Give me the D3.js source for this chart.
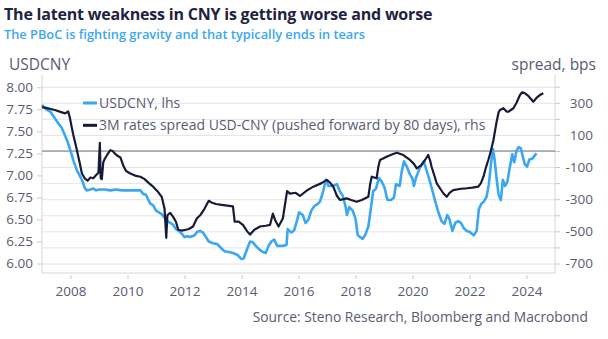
<!DOCTYPE html>
<html>
<head>
<meta charset="utf-8">
<script src="https://cdn.jsdelivr.net/npm/d3@7"></script>
<style>
  body { margin: 0; background: #fff; }
  svg { display: block; font-family: "Open Sans", "Noto Sans", sans-serif; }
</style>
</head>
<body>
<div id="chart"></div>
<script>
// USDCNY spot (lhs), decimal years
const cnyYears = [
  2007.00, 2007.05, 2007.15, 2007.30, 2007.45, 2007.55, 2007.69, 2007.80, 2007.90,
  2008.00, 2008.10, 2008.22, 2008.32, 2008.40, 2008.50, 2008.57, 2008.70, 2008.80, 2008.90,
  2009.00, 2009.20, 2009.40, 2009.60, 2009.80, 2010.00, 2010.20, 2010.45, 2010.55, 2010.65,
  2010.72, 2010.80, 2010.90, 2011.00, 2011.10, 2011.20, 2011.30, 2011.40, 2011.50, 2011.60,
  2011.70, 2011.80, 2011.90, 2012.00, 2012.10, 2012.20, 2012.35, 2012.45, 2012.55, 2012.65,
  2012.75, 2012.85, 2013.00, 2013.15, 2013.30, 2013.40, 2013.55, 2013.70, 2013.85, 2014.00,
  2014.08, 2014.18, 2014.30, 2014.40, 2014.50, 2014.62, 2014.75, 2014.85, 2014.95, 2015.05,
  2015.15, 2015.25, 2015.45, 2015.58, 2015.62, 2015.75, 2015.85, 2015.95, 2016.02, 2016.15,
  2016.25, 2016.35, 2016.45, 2016.55, 2016.65, 2016.75, 2016.85, 2016.96, 2017.05, 2017.20,
  2017.35, 2017.45, 2017.55, 2017.65, 2017.70, 2017.78, 2017.90, 2018.00, 2018.08, 2018.25,
  2018.35, 2018.45, 2018.55, 2018.62, 2018.72, 2018.82, 2018.92, 2019.02, 2019.12, 2019.25,
  2019.35, 2019.42, 2019.55, 2019.62, 2019.70, 2019.80, 2019.90, 2020.00, 2020.05, 2020.12,
  2020.25, 2020.40, 2020.50, 2020.62, 2020.72, 2020.82, 2020.92, 2021.02, 2021.12, 2021.22,
  2021.30, 2021.40, 2021.50, 2021.60, 2021.70, 2021.80, 2021.90, 2022.00, 2022.15, 2022.25,
  2022.33, 2022.42, 2022.50, 2022.60, 2022.68, 2022.75, 2022.82, 2022.88, 2022.95, 2023.02,
  2023.10, 2023.17, 2023.25, 2023.33, 2023.42, 2023.50, 2023.57, 2023.65, 2023.72, 2023.80,
  2023.88, 2023.95, 2024.02, 2024.10, 2024.20, 2024.30, 2024.35
];
const cnyValues = [
  7.80, 7.78, 7.75, 7.72, 7.65, 7.60, 7.54, 7.46, 7.38,
  7.28, 7.17, 7.06, 7.00, 6.95, 6.86, 6.83, 6.84, 6.85, 6.83,
  6.84, 6.84, 6.83, 6.84, 6.83, 6.83, 6.83, 6.83, 6.79, 6.78,
  6.73, 6.68, 6.66, 6.60, 6.58, 6.56, 6.52, 6.48, 6.46, 6.44,
  6.39, 6.37, 6.34, 6.30, 6.31, 6.30, 6.32, 6.36, 6.37, 6.35,
  6.30, 6.25, 6.23, 6.22, 6.17, 6.14, 6.13, 6.12, 6.10, 6.05,
  6.06, 6.15, 6.25, 6.24, 6.20, 6.16, 6.13, 6.12, 6.20, 6.25,
  6.27, 6.20, 6.20, 6.21, 6.39, 6.35, 6.38, 6.49, 6.58, 6.55,
  6.46, 6.50, 6.60, 6.65, 6.67, 6.70, 6.80, 6.95, 6.88, 6.88,
  6.90, 6.82, 6.77, 6.65, 6.55, 6.64, 6.60, 6.51, 6.32, 6.28,
  6.33, 6.42, 6.65, 6.82, 6.85, 6.97, 6.93, 6.86, 6.72, 6.72,
  6.75, 6.90, 6.88, 7.04, 7.16, 7.10, 7.02, 6.96, 6.88, 6.97,
  7.08, 7.16, 7.05, 6.92, 6.80, 6.68, 6.57, 6.48, 6.45, 6.55,
  6.50, 6.37, 6.46, 6.48, 6.46, 6.40, 6.37, 6.36, 6.32, 6.37,
  6.62, 6.68, 6.70, 6.76, 6.90, 7.12, 7.30, 7.18, 6.97, 6.78,
  6.72, 6.95, 6.88, 6.93, 7.10, 7.24, 7.15, 7.28, 7.32, 7.31,
  7.20, 7.12, 7.10, 7.18, 7.19, 7.23, 7.25
];

// 3M rates spread USD-CNY, bps (rhs), already shifted 80 days
const spreadYears = [
  2007.00, 2007.10, 2007.45, 2007.70, 2007.81, 2007.92, 2007.98, 2008.04, 2008.10, 2008.16,
  2008.22, 2008.28, 2008.33, 2008.40, 2008.50, 2008.60, 2008.70, 2008.80, 2008.90, 2008.98,
  2009.03, 2009.06, 2009.10, 2009.15, 2009.20, 2009.30, 2009.40, 2009.48, 2009.55, 2009.65,
  2009.75, 2009.85, 2009.95, 2010.10, 2010.30, 2010.45, 2010.60, 2010.75, 2010.90, 2011.05,
  2011.20, 2011.30, 2011.36, 2011.40, 2011.50, 2011.60, 2011.70, 2011.78, 2011.90, 2012.05,
  2012.15, 2012.30, 2012.43, 2012.55, 2012.70, 2012.85, 2012.95, 2013.10, 2013.30, 2013.50,
  2013.70, 2013.76, 2013.90, 2014.05, 2014.20, 2014.30, 2014.45, 2014.65, 2014.85, 2015.00,
  2015.10, 2015.18, 2015.30, 2015.45, 2015.60, 2015.70, 2015.90, 2016.05, 2016.30, 2016.52,
  2016.81, 2016.99, 2017.10, 2017.22, 2017.35, 2017.46, 2017.69, 2017.85, 2018.04, 2018.22,
  2018.45, 2018.52, 2018.57, 2018.74, 2018.80, 2018.86, 2019.09, 2019.30, 2019.45, 2019.68,
  2019.91, 2020.05, 2020.15, 2020.30, 2020.44, 2020.55, 2020.62, 2020.67, 2020.85, 2021.08,
  2021.20, 2021.30, 2021.43, 2021.70, 2021.90, 2022.10, 2022.31, 2022.40, 2022.49, 2022.58,
  2022.66, 2022.75, 2022.84, 2022.95, 2023.02, 2023.07, 2023.19, 2023.30, 2023.36, 2023.54,
  2023.65, 2023.77, 2023.85, 2023.95, 2024.05, 2024.24, 2024.35, 2024.47, 2024.59
];
const spreadValues = [
  272, 270, 255, 240, 234, 246, 205, 150, 100, 55,
  10, -40, -80, -140, -170, -185, -165, -170, -150, -135,
  50, -170, -175, -70, -50, -20, 5, 0, -15, -30,
  -40, -90, -125, -140, -155, -160, -175, -200, -222, -250,
  -285, -360, -540, -400, -385, -410, -440, -490, -495, -490,
  -485, -470, -420, -400, -360, -310, -320, -330, -335, -340,
  -345, -440, -440, -460, -500, -520, -490, -470, -465, -460,
  -390, -430, -470, -420, -250, -265, -260, -280, -245, -222,
  -200, -180, -195, -222, -280, -305, -295, -305, -316, -305,
  -285, -200, -160, -170, -100, -56, -36, -20, -11, -25,
  -56, -80, -108, -90, -56, -25, -60, -98, -201, -263,
  -285, -260, -243, -235, -232, -228, -222, -200, -160, -100,
  -56, 0, 68, 180, 240, 255, 266, 245, 244, 266,
  300, 348, 365, 359, 345, 307, 330, 348, 359
];

const yearTicks = d3.range(2008, 2025, 2);
const cnyTicks = d3.range(6, 8.01, 0.25);
const spreadTicks = d3.range(-700, 401, 100);
const spreadLabels = [-700, -500, -300, -100, 100, 300];

const width = 608, height = 339;
const plot = {left: 42, right: 555, top: 75, bottom: 273};

const textColor = "#585c70";
const cnyColor = "#3aa7f3";
const spreadColor = "#161b38";

const svg = d3.select("#chart").append("svg")
    .attr("width", width)
    .attr("height", height);

const x = d3.scaleLinear().domain([2007, 2025]).range([plot.left, plot.right]);
const yL = d3.scaleLinear().domain([6, 8]).range([263.5, 87.3]);
const yR = d3.scaleLinear().domain([-700, 400]).range([263.5, 86.7]);

// titles
svg.append("text")
    .attr("x", 4).attr("y", 20)
    .attr("font-size", 16).attr("font-weight", 700)
    .attr("letter-spacing", -0.2)
    .attr("fill", "#1d2340")
    .text("The latent weakness in CNY is getting worse and worse");

svg.append("text")
    .attr("x", 4).attr("y", 38.5)
    .attr("font-size", 12.8).attr("font-weight", 600)
    .attr("fill", "#3aa7f3")
    .text("The PBoC is fighting gravity and that typically ends in tears");

svg.append("text")
    .attr("x", 9).attr("y", 70)
    .attr("font-size", 15.5).attr("fill", textColor)
    .text("USDCNY");

svg.append("text")
    .attr("x", 596).attr("y", 70)
    .attr("text-anchor", "end")
    .attr("font-size", 15.5).attr("fill", textColor)
    .text("spread, bps");

// horizontal grid follows the rhs ticks
svg.append("g")
    .attr("transform", `translate(${plot.left},0)`)
    .call(d3.axisRight(yR).tickValues(spreadTicks).tickSize(plot.right - plot.left).tickFormat(""))
    .call(g => g.select(".domain").remove())
    .call(g => g.selectAll("line").attr("stroke", "#e4e4e4"));

// frame
const frame = svg.append("g").attr("stroke", "#d6d6d6").attr("fill", "none");
frame.append("line").attr("x1", plot.left).attr("x2", plot.left).attr("y1", plot.top).attr("y2", plot.bottom);
frame.append("line").attr("x1", plot.right).attr("x2", plot.right).attr("y1", plot.top).attr("y2", plot.bottom);
frame.append("line").attr("x1", plot.left).attr("x2", plot.right).attr("y1", plot.bottom).attr("y2", plot.bottom);

// zero line of the spread
svg.append("line")
    .attr("x1", plot.left).attr("x2", plot.right)
    .attr("y1", yR(0)).attr("y2", yR(0))
    .attr("stroke", "#6e7384").attr("stroke-width", 1.2);

// axes
const styleAxis = g => {
    g.select(".domain").remove();
    g.selectAll("line").attr("stroke", "#c8c8c8");
    g.selectAll("text").attr("fill", textColor).attr("font-size", 13.5)
        .attr("font-family", "\"Open Sans\", \"Noto Sans\", sans-serif");
};

svg.append("g")
    .attr("transform", `translate(${plot.left},0)`)
    .call(d3.axisLeft(yL).tickValues(cnyTicks).tickSize(5).tickPadding(4).tickFormat(d3.format(".2f")))
    .call(styleAxis);

svg.append("g")
    .attr("transform", `translate(${plot.right},0)`)
    .call(d3.axisRight(yR).tickValues(spreadTicks).tickSize(5)
        .tickFormat(d => spreadLabels.includes(d) ? d : ""))
    .call(styleAxis)
    .call(g => g.selectAll("text").attr("text-anchor", "end").attr("x", 38));

svg.append("g")
    .attr("transform", `translate(0,${plot.bottom + 2})`)
    .call(d3.axisBottom(x).tickValues(yearTicks).tickSize(4).tickPadding(7).tickFormat(d3.format("d")))
    .call(styleAxis);

// series
const cnyLine = d3.line()
    .x((d, i) => x(cnyYears[i]))
    .y(d => yL(d));

const spreadLine = d3.line()
    .x((d, i) => x(spreadYears[i]))
    .y(d => yR(d));

svg.append("path")
    .datum(cnyValues)
    .attr("fill", "none")
    .attr("stroke", cnyColor)
    .attr("stroke-width", 2.6)
    .attr("stroke-linejoin", "round")
    .attr("d", cnyLine);

svg.append("path")
    .datum(spreadValues)
    .attr("fill", "none")
    .attr("stroke", spreadColor)
    .attr("stroke-width", 2.2)
    .attr("stroke-linejoin", "round")
    .attr("d", spreadLine);

// legend
const legendItems = [
    {label: "USDCNY, lhs", color: cnyColor},
    {label: "3M rates spread USD-CNY (pushed forward by 80 days), rhs", color: spreadColor}
];
const legend = svg.append("g").attr("transform", "translate(83,103)");
legend.selectAll("g")
    .data(legendItems)
    .join("g")
    .attr("transform", (d, i) => `translate(0,${i * 22.3})`)
    .call(g => g.append("line")
        .attr("x1", 0).attr("x2", 14)
        .attr("stroke", d => d.color).attr("stroke-width", 3))
    .call(g => g.append("text")
        .attr("x", 16).attr("dy", "0.35em")
        .attr("font-size", 14).attr("fill", textColor)
        .text(d => d.label));

svg.append("text")
    .attr("x", 588).attr("y", 322)
    .attr("text-anchor", "end")
    .attr("font-size", 13.8).attr("fill", textColor)
    .text("Source: Steno Research, Bloomberg and Macrobond");
</script>
</body>
</html>
